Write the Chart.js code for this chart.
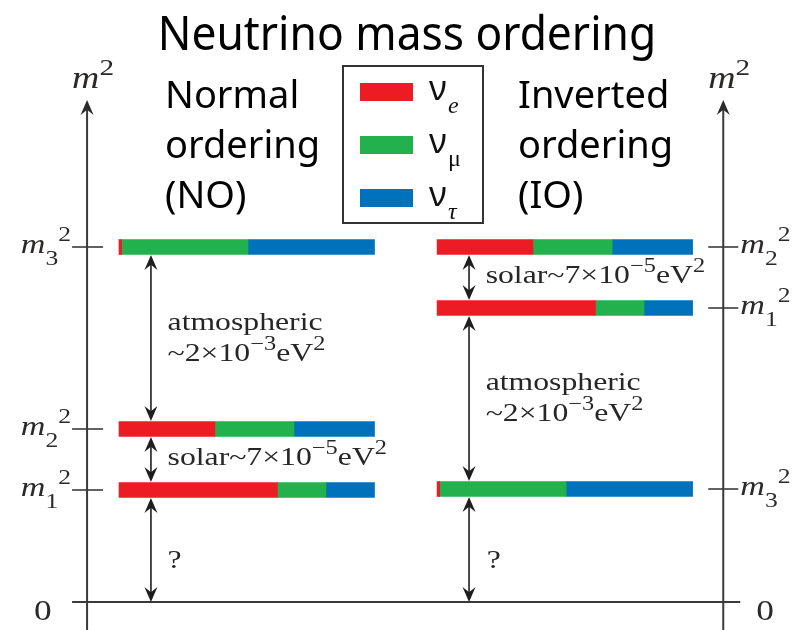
<!DOCTYPE html>
<html>
<head>
<meta charset="utf-8">
<script src="https://cdn.jsdelivr.net/npm/chart.js@4/dist/chart.umd.min.js"></script>
<style>
  html, body { margin: 0; padding: 0; background: #fff; }
  #chart { display: block; }
</style>
</head>
<body>
<canvas id="chart" width="802" height="630"></canvas>
<script>
// mass states and their m^2 levels (diagram units, not to scale)
const massIndex = ['1', '2', '3'];
const levelsNO = [11.2, 17.3, 35.5];
const levelsIO = [29.4, 35.5, 11.3];

// flavour content of each mass state (m1, m2, m3)
const fracE = [0.62, 0.375, 0.01];
const fracMu = [0.19, 0.31, 0.495];
const fracTau = [0.19, 0.315, 0.495];

const flavourNames = ['e', 'μ', 'τ'];
const flavourColors = ['#ED1C24', '#22B14C', '#0072BC'];

const PANEL_X = [0, 1.245];
const SERIF = '"Liberation Serif", "Times New Roman", serif';
const SANS = '"Noto Sans", "Open Sans", sans-serif';
const SX = 1.22;

const fracs = [fracE, fracMu, fracTau];
const levels = [levelsNO, levelsIO];

const datasets = fracs.map((f, k) => ({
  label: 'ν' + flavourNames[k],
  backgroundColor: flavourColors[k],
  data: levels.flatMap((lv, o) => lv.map((y, i) => {
    const s = PANEL_X[o] + fracs.slice(0, k).reduce((a, ff) => a + ff[i], 0);
    return { y: y, x: [s, s + f[i]] };
  }))
}));

function fontFor(k, size) {
  const small = k.indexOf('sup') >= 0 || k.indexOf('sub') >= 0;
  const it = k.indexOf('i') === 0;
  return (it ? 'italic ' : '') + (small ? Math.round(size * 0.76) : size) + 'px ' + SERIF;
}
function richWidth(ctx, parts, size) {
  let w = 0;
  parts.forEach(([t, k]) => {
    ctx.font = fontFor(k, size);
    w += ctx.measureText(t).width;
  });
  return w * SX;
}
// rich serif text: parts = [[text, kind]], kind: n, i, sup, sub
function rich(ctx, x, y, parts, size, align) {
  const w = richWidth(ctx, parts, size);
  const x0 = align === 'right' ? x - w : x;
  ctx.save();
  ctx.translate(x0, y);
  ctx.scale(SX, 1);
  ctx.textAlign = 'left';
  ctx.textBaseline = 'alphabetic';
  let cx = 0;
  parts.forEach(([t, k]) => {
    let dy = 0;
    if (k.indexOf('sup') >= 0) dy = -size * 0.42;
    if (k.indexOf('sub') >= 0) dy = size * 0.42;
    ctx.font = fontFor(k, size);
    ctx.fillText(t, cx, dy);
    cx += ctx.measureText(t).width;
  });
  ctx.restore();
}

function arrowHead(ctx, x, y, dir) {
  // dir = -1 points up, +1 points down
  const len = 15, half = 6.5;
  ctx.beginPath();
  ctx.moveTo(x, y);
  ctx.lineTo(x - half, y - dir * len);
  ctx.lineTo(x, y - dir * len * 0.65);
  ctx.lineTo(x + half, y - dir * len);
  ctx.closePath();
  ctx.fill();
}
function doubleArrow(ctx, x, y1, y2) {
  ctx.beginPath();
  ctx.moveTo(x, y1 + 8);
  ctx.lineTo(x, y2 - 8);
  ctx.stroke();
  arrowHead(ctx, x, y1, -1);
  arrowHead(ctx, x, y2, 1);
}

const diagramPlugin = {
  id: 'diagram',
  afterDatasetsDraw(chart) {
    const ctx = chart.ctx;
    const px = v => chart.scales.x.getPixelForValue(v);
    const py = v => chart.scales.y.getPixelForValue(v);
    const half = 8;
    const zeroY = py(0);
    const axL = px(PANEL_X[0] - 0.125);
    const axR = px(PANEL_X[1] + 1.12);

    ctx.save();
    // axes
    ctx.strokeStyle = '#3a3a3a';
    ctx.fillStyle = '#2a2a2a';
    ctx.lineWidth = 2;
    [axL, axR].forEach(ax => {
      ctx.beginPath();
      ctx.moveTo(ax, chart.height);
      ctx.lineTo(ax, 110);
      ctx.stroke();
      arrowHead(ctx, ax, 100, -1);
    });
    ctx.beginPath();
    ctx.moveTo(axL - 15, zeroY);
    ctx.lineTo(axR + 17, zeroY);
    ctx.stroke();

    ctx.lineWidth = 1.6;
    levelsNO.forEach(v => {
      ctx.beginPath();
      ctx.moveTo(axL - 15, py(v));
      ctx.lineTo(axL + 16, py(v));
      ctx.stroke();
    });
    levelsIO.forEach(v => {
      ctx.beginPath();
      ctx.moveTo(axR - 15, py(v));
      ctx.lineTo(axR + 15, py(v));
      ctx.stroke();
    });

    // axis labels
    ctx.fillStyle = '#2b2a28';
    const mSize = 28;
    rich(ctx, axL - 15, 88, [['m', 'i'], ['2', 'sup']], 31, 'left');
    rich(ctx, axR - 15, 88, [['m', 'i'], ['2', 'sup']], 31, 'left');
    levelsNO.forEach((v, i) => {
      rich(ctx, axL - 16, py(v) + 6, [['m', 'i'], [massIndex[i], 'sub'], ['2', 'sup']], mSize, 'right');
    });
    levelsIO.forEach((v, i) => {
      rich(ctx, axR + 17, py(v) + 6, [['m', 'i'], [massIndex[i], 'sub'], ['2', 'sup']], mSize, 'left');
    });
    rich(ctx, axL - 53, zeroY + 18, [['0', 'n']], 29, 'left');
    rich(ctx, axR + 33, zeroY + 18, [['0', 'n']], 29, 'left');

    // splitting arrows
    ctx.strokeStyle = '#1e1e1e';
    ctx.fillStyle = '#1e1e1e';
    ctx.lineWidth = 1.6;
    const sorted = [levelsNO, levelsIO].map(lv => [0].concat(lv.slice().sort((a, b) => a - b)));
    sorted.forEach((lv, o) => {
      const x = px(PANEL_X[o] + 0.125);
      for (let j = 1; j < lv.length; j++) {
        const top = py(lv[j]) + half;
        const bot = lv[j - 1] === 0 ? zeroY : py(lv[j - 1]) - half;
        doubleArrow(ctx, x, top, bot);
      }
    });

    // annotations
    ctx.fillStyle = '#262626';
    const tSize = 26;
    const atm = [['~2×10', 'n'], ['−3', 'sup'], ['eV', 'n'], ['2', 'sup']];
    const sol = [['solar~7×10', 'n'], ['−5', 'sup'], ['eV', 'n'], ['2', 'sup']];
    const tx = o => px(PANEL_X[o] + 0.19);
    rich(ctx, tx(0), 330, [['atmospheric', 'n']], tSize, 'left');
    rich(ctx, tx(0), 361, atm, tSize, 'left');
    rich(ctx, tx(0), 465, sol, tSize, 'left');
    rich(ctx, tx(1), 390, [['atmospheric', 'n']], tSize, 'left');
    rich(ctx, tx(1), 421, atm, tSize, 'left');
    rich(ctx, tx(1), 283, sol, tSize, 'left');
    rich(ctx, tx(0), 568, [['?', 'n']], tSize, 'left');
    rich(ctx, tx(1) + 1, 568, [['?', 'n']], tSize, 'left');

    // title and panel labels
    ctx.fillStyle = '#000';
    ctx.textBaseline = 'alphabetic';
    ctx.textAlign = 'center';
    ctx.save();
    ctx.translate(407, 50);
    ctx.scale(1.03, 1.1);
    ctx.font = '43px ' + SANS;
    ctx.fillText('Neutrino mass ordering', 0, 0);
    ctx.restore();
    ctx.textAlign = 'left';
    ctx.font = '38px ' + SANS;
    ['Normal', 'ordering', '(NO)'].forEach((t, i) => ctx.fillText(t, 165, 108 + i * 50));
    ['Inverted', 'ordering', '(IO)'].forEach((t, i) => ctx.fillText(t, 518, 108 + i * 50));

    // legend
    ctx.strokeStyle = '#333';
    ctx.lineWidth = 2;
    ctx.strokeRect(343, 66, 140, 157);
    flavourColors.forEach((c, k) => {
      const cy = 92 + k * 53;
      ctx.fillStyle = c;
      ctx.fillRect(360, cy - 9, 53, 18);
      ctx.fillStyle = '#111';
      ctx.font = '34px ' + SANS;
      ctx.fillText('ν', 429, cy + 8);
      ctx.font = (k === 1 ? '' : 'italic ') + '24px ' + SERIF;
      ctx.fillText(flavourNames[k], 448, cy + 21);
    });
    ctx.restore();
  }
};

new Chart(document.getElementById('chart'), {
  type: 'bar',
  data: { datasets: datasets },
  options: {
    indexAxis: 'y',
    responsive: false,
    animation: false,
    devicePixelRatio: 1,
    layout: { padding: 0 },
    datasets: {
      bar: { barThickness: 15, grouped: false, borderWidth: 0, borderSkipped: false }
    },
    scales: {
      x: { type: 'linear', min: -0.4658, max: 2.6732, offset: false, display: false },
      y: { type: 'linear', min: -2.8, max: 60.2, offset: false, display: false }
    },
    plugins: {
      legend: { display: false },
      tooltip: { enabled: false },
      title: { display: false }
    }
  },
  plugins: [diagramPlugin]
});
</script>
</body>
</html>
